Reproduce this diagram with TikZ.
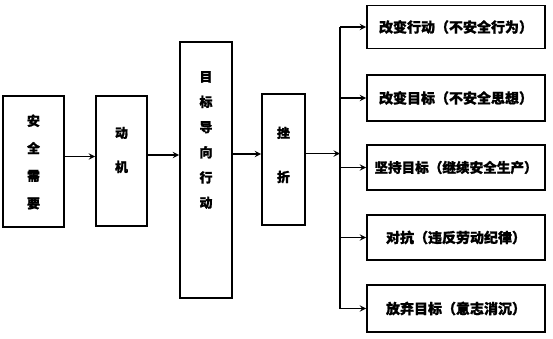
\documentclass[tikz,border=0pt]{standalone}
\usepackage{fontspec}
\newfontfamily\cjk[FakeBold=1.2]{Noto Sans CJK SC}
\usepackage{tikz}

\tikzset{
  box/.style = {draw, line width=1.8pt, inner sep=0pt, align=center, font=\cjk\bfseries\fontsize{14}{16}\selectfont},
  vtext/.style = {inner sep=0pt, align=center, font=\cjk\bfseries\fontsize{13}{#1}\selectfont},
  arr/.style = {line width=1.8pt, -stealth},
}

\begin{document}
\begin{tikzpicture}[x=1pt, y=-1pt]
  \useasboundingbox (0,0) rectangle (553,338);

  % Parameters
  \def\rw{178}
  \def\rx{456}

  % Left chain
  \node[box, minimum width=61pt, minimum height=131pt] (need) at (33.5,161.5) {};
  \node[vtext=27.5] (needtext) at (33.5,162) {安\\全\\需\\要};
  \node[box, minimum width=51pt, minimum height=130pt] (motive) at (121.5,161) {};
  \node[vtext=34] (motivetext) at (121.5,150) {动\\机};
  \node[box, minimum width=52pt, minimum height=256pt] (act) at (206,170) {};
  \node[vtext=25.2] (acttext) at (206,140) {目\\标\\导\\向\\行\\动};
  \node[box, minimum width=43pt, minimum height=131pt] (frust) at (283.5,159.5) {};
  \node[vtext=44] (frusttext) at (283.5,155) {挫\\折};

  % Right boxes
  \node[box, minimum width=\rw pt, minimum height=43pt] (ra) at (\rx,27) {改变行动（不安全行为）};
  \node[box, minimum width=\rw pt, minimum height=46pt] (rb) at (\rx,98) {改变目标（不安全思想）};
  \node[box, minimum width=\rw pt, minimum height=45pt, font=\cjk\bfseries\fontsize{13.6}{16}\selectfont] (rc) at (\rx,167.5) {坚持目标（继续安全生产）};
  \node[box, minimum width=\rw pt, minimum height=45pt] (rd) at (\rx,237.5) {对抗（违反劳动纪律）};
  \node[box, minimum width=\rw pt, minimum height=47pt] (re) at (\rx,308.5) {放弃目标（意志消沉）};

  % Arrows along the chain
  \draw[arr] ([yshift=5pt]need.east) -- ([yshift=5pt]need.east -| motive.west);
  \draw[arr] ([yshift=6pt]motive.east) -- ([yshift=6pt]motive.east -| act.west);
  \draw[arr] ([yshift=16pt]act.east) -- ([yshift=16pt]act.east -| frust.west);

  % Branch spine
  \coordinate (j) at ([yshift=6pt]frust.east -| 340,0);
  \draw[arr] ([yshift=6pt]frust.east) -- (j);
  \draw[line width=1.8pt] (ra.west -| j) -- (re.west -| j);

  % Branch arrows
  \draw[arr] (ra.west -| j) -- (ra.west);
  \draw[arr] (rb.west -| j) -- (rb.west);
  \draw[arr] (rc.west -| j) -- (rc.west);
  \draw[arr] (rd.west -| j) -- (rd.west);
  \draw[arr] (re.west -| j) -- (re.west);

\end{tikzpicture}
\end{document}
